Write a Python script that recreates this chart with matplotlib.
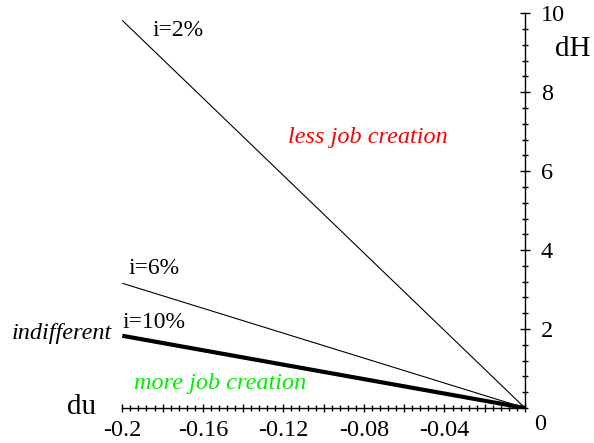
import matplotlib
matplotlib.use("Agg")
import matplotlib.pyplot as plt
from matplotlib.ticker import MultipleLocator

plt.rcParams['font.family'] = ['Liberation Serif', 'DejaVu Serif']

# Data
du = [-0.2, 0.0]
series_labels = ["i=2%", "i=6%", "i=10%"]
dH_2 = [9.82, 0.0]
dH_6 = [3.16, 0.0]
dH_10 = [1.83, 0.0]
xtick_vals = [-0.2, -0.16, -0.12, -0.08, -0.04]
xtick_labels = ["-0.2", "-0.16", "-0.12", "-0.08", "-0.04"]
xtick_unlabeled = [-0.18, -0.14, -0.10, -0.06, -0.02, 0.0]
ytick_vals = [2, 4, 6, 8, 10]
ytick_labels = ["2", "4", "6", "8", "10"]

fig = plt.figure(figsize=(5.94, 4.43), dpi=100)
ax = fig.add_axes([122.3/594, (443-408)/443, (525-122.3)/594, (408-13.3)/443])
ax.set_xlim(-0.2, 0)
ax.set_ylim(0, 10)

ax.plot(du, dH_2, color='black', lw=0.8, solid_capstyle='butt')
ax.plot(du, dH_6, color='black', lw=0.8, solid_capstyle='butt')
ax.plot(du, dH_10, color='black', lw=3.0, solid_capstyle='butt')

for s in ['top', 'left']:
    ax.spines[s].set_visible(False)
ax.spines['right'].set_linewidth(1.0)
ax.spines['bottom'].set_linewidth(1.0)

ax.yaxis.tick_right()
allx = xtick_vals + xtick_unlabeled
lbls = {v: l for v, l in zip(xtick_vals, xtick_labels)}
ax.set_xticks(allx)
ax.set_xticklabels([lbls.get(v, "") for v in allx])
ax.xaxis.set_minor_locator(MultipleLocator(0.004))
ax.set_yticks(ytick_vals)
ax.set_yticklabels(ytick_labels)
ax.yaxis.set_minor_locator(MultipleLocator(0.4))

ax.tick_params(axis='x', which='major', direction='inout', length=6, width=1.0,
               labelsize=17.5, pad=6)
ax.tick_params(axis='x', which='minor', direction='inout', length=4, width=1.0)
ax.tick_params(axis='y', which='major', direction='inout', length=7, width=1.0,
               labelsize=17.5, pad=8, right=True, left=False)
ax.tick_params(axis='y', which='minor', direction='inout', length=4, width=1.0,
               right=True, left=False)

# origin label
fig.text(540/594, 1 - 425/443, "0", fontsize=17.5, ha='center', va='center')

# axis titles
fig.text(82/594, 1 - 407/443, "du", fontsize=21, ha='center', va='center')
fig.text(573/594, 1 - 49/443, "dH", fontsize=21, ha='center', va='center')

# annotations
fig.text(178/594, 1 - 31/443, series_labels[0], fontsize=17, ha='center', va='center')
fig.text(154/594, 1 - 269/443, series_labels[1], fontsize=17, ha='center', va='center')
fig.text(154/594, 1 - 322/443, series_labels[2], fontsize=17, ha='center', va='center')
fig.text(368/594, 1 - 138/443, "less job creation", fontsize=17.5, style='italic',
         color='#ff0000', ha='center', va='center')
fig.text(220/594, 1 - 383/443, "more job creation", fontsize=17.5, style='italic',
         color='#00ee00', ha='center', va='center')
fig.text(62/594, 1 - 334/443, "indifferent", fontsize=17.5, style='italic',
         color='black', ha='center', va='center')

fig.savefig("out.png", dpi=100)
